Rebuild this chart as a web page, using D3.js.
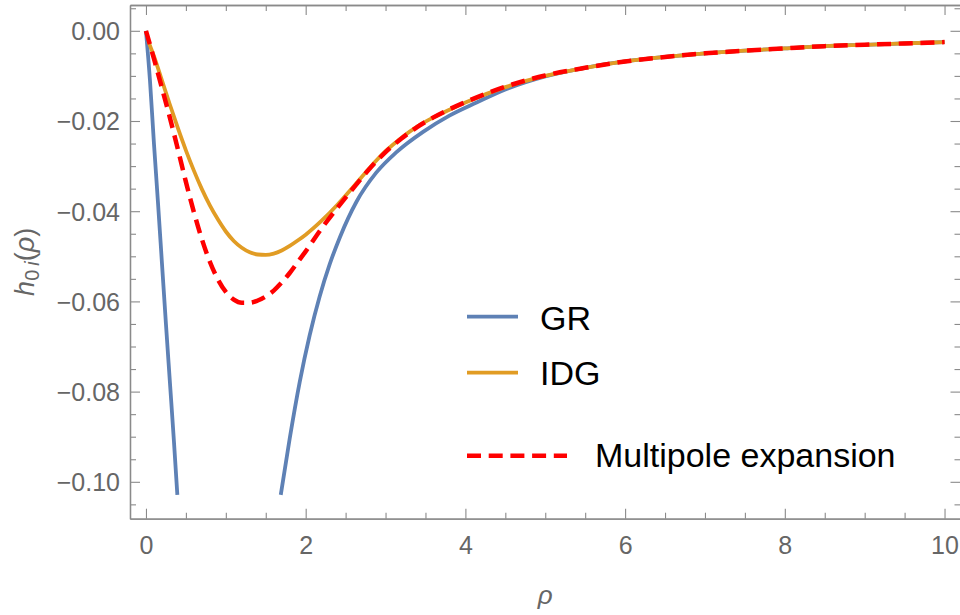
<!DOCTYPE html>
<html>
<head>
<meta charset="utf-8">
<script src="https://cdn.jsdelivr.net/npm/d3@7"></script>
<style>
  html, body { margin: 0; padding: 0; background: #fff; }
  svg { display: block; }
</style>
</head>
<body>
<svg id="chart" width="960" height="615"></svg>
<script>
// ---- data ----
const grRhoInner = [0, 0.05, 0.1, 0.15, 0.2, 0.25, 0.3, 0.35, 0.393];
const grInner    = [0, -0.011, -0.025, -0.038, -0.0515, -0.065, -0.078, -0.091, -0.1029];

const grRhoOuter = [1.688, 1.8, 1.925, 2.05, 2.175, 2.3, 2.43, 2.636, 2.886, 3.137, 3.47, 3.8, 4.14, 4.5, 5.0, 5.5, 6, 6.5, 7, 7.5, 8, 8.5, 9, 9.5, 10];
const grOuter    = [-0.1029, -0.0904, -0.0779, -0.0675, -0.0589, -0.0518, -0.0457, -0.0379, -0.0314, -0.0269, -0.0224, -0.0188, -0.0159, -0.0130, -0.0101, -0.0082, -0.0068, -0.0058, -0.0050, -0.0044, -0.0039, -0.0034, -0.0031, -0.0028, -0.0025];

const idgRho = [0.03, 0.1, 0.2, 0.3, 0.4, 0.5, 0.6, 0.7, 0.8, 0.9, 1.0, 1.1, 1.2, 1.3, 1.4, 1.5, 1.6, 1.7, 1.8, 1.9, 2.0, 2.2, 2.4, 2.6, 2.8, 3.0, 3.2, 3.4, 3.6, 3.8, 4.0, 4.5, 5, 5.5, 6, 6.5, 7, 7.5, 8, 8.5, 9, 9.5, 10];
const idgVal = [-0.0024, -0.0056, -0.011, -0.0164, -0.0216, -0.0265, -0.031, -0.0351, -0.0387, -0.0418, -0.0445, -0.0466, -0.0481, -0.0491, -0.0496, -0.0497, -0.0494, -0.0487, -0.0477, -0.0465, -0.0452, -0.0421, -0.0385, -0.0345, -0.0304, -0.0267, -0.0237, -0.0212, -0.0192, -0.0175, -0.0159, -0.0125, -0.0100, -0.0082, -0.0068, -0.0058, -0.0050, -0.0044, -0.0039, -0.0034, -0.0031, -0.0028, -0.0025];

const mpRho = [0, 0.1, 0.2, 0.3, 0.4, 0.5, 0.6, 0.7, 0.8, 0.9, 1.0, 1.1, 1.2, 1.3, 1.4, 1.5, 1.6, 1.7, 1.8, 1.9, 2.0, 2.2, 2.4, 2.6, 2.8, 3.0, 3.2, 3.4, 3.6, 3.8, 4.0, 4.5, 5, 5.5, 6, 6.5, 7, 7.5, 8, 8.5, 9, 9.5, 10];
const mpVal = [0, -0.0062, -0.0127, -0.0193, -0.0263, -0.0335, -0.0402, -0.0462, -0.0512, -0.0551, -0.0579, -0.0596, -0.0603, -0.0603, -0.0598, -0.0589, -0.0576, -0.0558, -0.0537, -0.0513, -0.0489, -0.0438, -0.0392, -0.0348, -0.0306, -0.0269, -0.0239, -0.0213, -0.0192, -0.0174, -0.0158, -0.0124, -0.0099, -0.0082, -0.0068, -0.0058, -0.0050, -0.0044, -0.0039, -0.0034, -0.0031, -0.0028, -0.0025];

const xTicks = [0, 2, 4, 6, 8, 10];
const xTickLabels = ["0", "2", "4", "6", "8", "10"];
const yTicks = [0, -0.02, -0.04, -0.06, -0.08, -0.10];
const yTickLabels = ["0.00", "\u22120.02", "\u22120.04", "\u22120.06", "\u22120.08", "\u22120.10"];
const legendLabels = ["GR", "IDG", "Multipole expansion"];

// ---- layout ----
const svg = d3.select("#chart");
const L = 130, R = 960.5, T = 5, B = 518.7;
const x = d3.scaleLinear().domain([-0.2, 10.2]).range([L, R]);
const y = d3.scaleLinear().domain([-0.10818, 0.00572]).range([B, T]);

const frameColor = "#8a8a8a";
const labelColor = "#666666";
const font = "'Liberation Sans', Arial, sans-serif";

const xMinor = d3.range(0, 10.0001, 0.5).filter(v => !xTicks.some(t => Math.abs(t - v) < 1e-9));
const yMinor = d3.range(-0.105, 0.0051, 0.005).filter(v => !yTicks.some(t => Math.abs(t - v) < 1e-9));

function styleAxis(g) {
  g.selectAll(".domain").attr("stroke", frameColor).attr("stroke-width", 1.3);
  g.selectAll(".tick line").attr("stroke", frameColor).attr("stroke-width", 1.1);
}

// bottom
const gB = svg.append("g").attr("transform", `translate(0,${B})`)
  .call(d3.axisBottom(x).tickValues(xTicks).tickFormat((d, i) => xTickLabels[i]).tickSize(-10).tickSizeOuter(0));
styleAxis(gB);
gB.selectAll(".tick text").attr("y", 35.5).attr("dy", null)
  .attr("fill", labelColor).style("font-family", font).style("font-size", "25px");
const gBm = svg.append("g").attr("transform", `translate(0,${B})`)
  .call(d3.axisBottom(x).tickValues(xMinor).tickFormat("").tickSize(-6).tickSizeOuter(0));
styleAxis(gBm);

// top
const gT = svg.append("g").attr("transform", `translate(0,${T})`)
  .call(d3.axisTop(x).tickValues(xTicks).tickFormat("").tickSize(-10).tickSizeOuter(0));
styleAxis(gT);
const gTm = svg.append("g").attr("transform", `translate(0,${T})`)
  .call(d3.axisTop(x).tickValues(xMinor).tickFormat("").tickSize(-6).tickSizeOuter(0));
styleAxis(gTm);

// left
const gL = svg.append("g").attr("transform", `translate(${L},0)`)
  .call(d3.axisLeft(y).tickValues(yTicks).tickFormat((d, i) => yTickLabels[i]).tickSize(-10).tickSizeOuter(0));
styleAxis(gL);
gL.selectAll(".tick text").attr("x", -10).attr("dy", "0.36em")
  .attr("fill", labelColor).style("font-family", font).style("font-size", "25px");
const gLm = svg.append("g").attr("transform", `translate(${L},0)`)
  .call(d3.axisLeft(y).tickValues(yMinor).tickFormat("").tickSize(-6).tickSizeOuter(0));
styleAxis(gLm);

// right
const gR = svg.append("g").attr("transform", `translate(${R},0)`)
  .call(d3.axisRight(y).tickValues(yTicks).tickFormat("").tickSize(-10).tickSizeOuter(0));
styleAxis(gR);
const gRm = svg.append("g").attr("transform", `translate(${R},0)`)
  .call(d3.axisRight(y).tickValues(yMinor).tickFormat("").tickSize(-6).tickSizeOuter(0));
styleAxis(gRm);

// axis labels
svg.append("text").attr("x", (L + R) / 2).attr("y", 604).attr("text-anchor", "middle")
  .attr("fill", labelColor).style("font-family", font).style("font-size", "26px").style("font-style", "italic")
  .text("\u03C1");

const yl = svg.append("text").attr("transform", `translate(34,${(T + B) / 2}) rotate(-90)`)
  .attr("text-anchor", "middle").attr("fill", labelColor)
  .style("font-family", font).style("font-size", "27px");
yl.append("tspan").style("font-style", "italic").text("h");
yl.append("tspan").attr("dy", 5).style("font-size", "20px").text("0\u2009");
yl.append("tspan").style("font-size", "20px").style("font-style", "italic").text("i");
yl.append("tspan").attr("dy", -5).text("(");
yl.append("tspan").style("font-style", "italic").text("\u03C1");
yl.append("tspan").text(")");

// clip
svg.append("clipPath").attr("id", "plotclip").append("rect")
  .attr("x", L).attr("y", T).attr("width", R - L).attr("height", B - T);

const line = d3.line().x(d => x(d[0])).y(d => y(d[1])).curve(d3.curveMonotoneX);
const plot = svg.append("g").attr("clip-path", "url(#plotclip)");

const blue = "#5E81B5", orange = "#E19C24", red = "#FF0000";

plot.append("path").datum(d3.zip(grRhoInner, grInner)).attr("d", line)
  .attr("fill", "none").attr("stroke", blue).attr("stroke-width", 3.8);
plot.append("path").datum(d3.zip(grRhoOuter, grOuter)).attr("d", line)
  .attr("fill", "none").attr("stroke", blue).attr("stroke-width", 3.8);
plot.append("path").datum(d3.zip(idgRho, idgVal)).attr("d", line)
  .attr("fill", "none").attr("stroke", orange).attr("stroke-width", 3.8);
plot.append("path").datum(d3.zip(mpRho, mpVal)).attr("d", line)
  .attr("fill", "none").attr("stroke", red).attr("stroke-width", 4.5)
  .attr("stroke-dasharray", "14,7.7");

// legend
const legendItems = [
  { label: legendLabels[0], color: blue, dash: null, w: 3.8, x2: 518, ly: 316.7, tx: 540, ty: 330 },
  { label: legendLabels[1], color: orange, dash: null, w: 3.8, x2: 518, ly: 372.7, tx: 540, ty: 385 },
  { label: legendLabels[2], color: red, dash: "14,7.7", w: 4.5, x2: 567, ly: 455.7, tx: 595, ty: 467 }
];
const lg = svg.append("g");
legendItems.forEach(it => {
  lg.append("line").attr("x1", 467).attr("x2", it.x2).attr("y1", it.ly).attr("y2", it.ly)
    .attr("stroke", it.color).attr("stroke-width", it.w).attr("stroke-dasharray", it.dash);
  lg.append("text").attr("x", it.tx).attr("y", it.ty).attr("fill", "#000")
    .style("font-family", font).style("font-size", "34px").text(it.label);
});
</script>
</body>
</html>
